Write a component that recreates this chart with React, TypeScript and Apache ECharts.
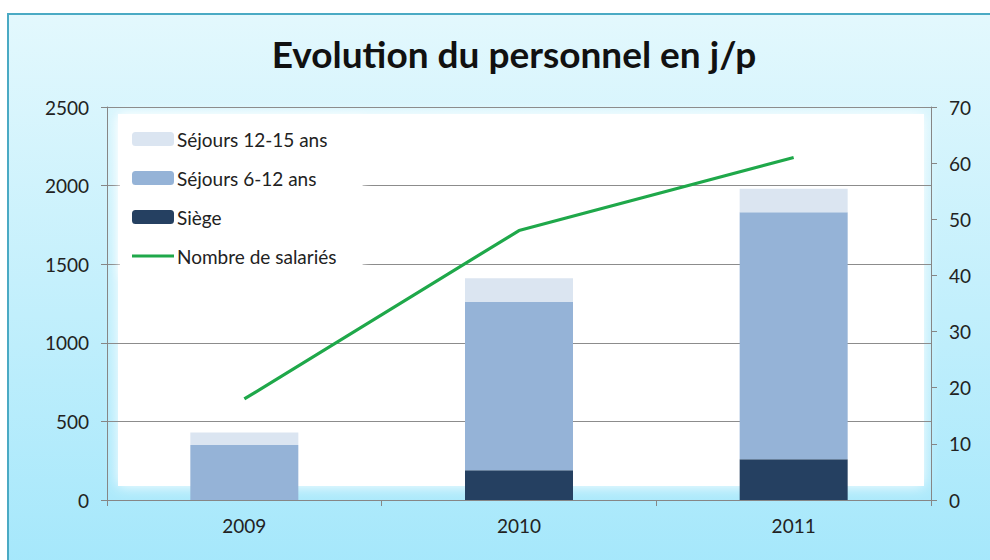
import React, { useEffect, useRef } from "react";
import * as echarts from "echarts";

const categories = ["2009", "2010", "2011"];
const siege = [0, 190, 260];
const sejours612 = [350, 1070, 1570];
const sejours1215 = [80, 150, 150];
const salaries = [18, 48, 61];
const leftTicks = [0, 500, 1000, 1500, 2000, 2500];
const rightTicks = [0, 10, 20, 30, 40, 50, 60, 70];

const FONT = "Lato, 'Open Sans', sans-serif";

export default function App() {
  const ref = useRef<HTMLDivElement>(null);
  useEffect(() => {
    if (!ref.current) return;
    const chart = echarts.init(ref.current, null, { renderer: "svg" });
    const axisLabel = { color: "#222", fontSize: 19, fontFamily: FONT };
    chart.setOption({
      animation: false,
      backgroundColor: "#fff",
      title: {
        text: "Evolution du personnel en j/p",
        left: 509,
        textAlign: "center",
        top: 30,
        textStyle: { fontSize: 37, fontWeight: "bold", color: "#111", fontFamily: FONT },
      },
      graphic: [
        {
          type: "rect",
          z: -10,
          silent: true,
          shape: { x: 8, y: 14, width: 1000, height: 600 },
          style: {
            fill: new echarts.graphic.LinearGradient(0, 0, 0, 1, [
              { offset: 0, color: "#e3f8fd" },
              { offset: 1, color: "#a0e6fb" },
            ]),
            stroke: "#4aaac4",
            lineWidth: 2,
          },
        },
        {
          type: "rect",
          z: -9,
          silent: true,
          shape: { x: 118, y: 114, width: 806, height: 372 },
          style: { fill: "#ffffff", shadowBlur: 14, shadowColor: "#ffffff" },
        },
      ],
      legend: {
        orient: "vertical",
        left: 120,
        top: 118,
        padding: [11, 26, 11, 12],
        backgroundColor: "#ffffff",
        shadowBlur: 10,
        shadowColor: "rgba(255,255,255,1)",
        itemWidth: 42,
        itemHeight: 14,
        itemGap: 19,
        textStyle: { fontSize: 19, lineHeight: 20, color: "#222", fontFamily: FONT, padding: [0, 0, 0, -2] },
        data: [
          { name: "Séjours 12-15 ans" },
          { name: "Séjours 6-12 ans" },
          { name: "Siège" },
          { name: "Nombre de salariés", icon: "path://M0,6 L42,6 L42,9 L0,9 Z" },
        ],
      },
      grid: { left: 107, right: 59, top: 107, bottom: 60 },
      xAxis: {
        type: "category",
        data: categories,
        axisLine: { lineStyle: { color: "#868686", width: 1 } },
        axisTick: { show: true, length: 6, inside: false, lineStyle: { color: "#868686" } },
        axisLabel: { ...axisLabel, margin: 16 },
      },
      yAxis: [
        {
          type: "value",
          min: leftTicks[0],
          max: leftTicks[leftTicks.length - 1],
          interval: 500,
          axisLine: { show: true, lineStyle: { color: "#868686" } },
          axisTick: { show: true, length: 6, lineStyle: { color: "#868686" } },
          splitLine: { show: true, lineStyle: { color: "#8c8c8c", width: 1 } },
          axisLabel: { ...axisLabel, margin: 18, formatter: (v: number) => String(v) },
        },
        {
          type: "value",
          min: rightTicks[0],
          max: rightTicks[rightTicks.length - 1],
          interval: 10,
          position: "right",
          axisLine: { show: true, lineStyle: { color: "#868686" } },
          axisTick: { show: true, length: 6, lineStyle: { color: "#868686" } },
          splitLine: { show: false },
          axisLabel: { ...axisLabel, margin: 18, formatter: (v: number) => String(v) },
        },
      ],
      series: [
        {
          name: "Siège",
          type: "bar",
          stack: "total",
          data: siege,
          barWidth: 108,
          itemStyle: { color: "#254061" },
        },
        {
          name: "Séjours 6-12 ans",
          type: "bar",
          stack: "total",
          data: sejours612,
          barWidth: 108,
          itemStyle: { color: "#95b3d7" },
        },
        {
          name: "Séjours 12-15 ans",
          type: "bar",
          stack: "total",
          data: sejours1215,
          barWidth: 108,
          itemStyle: { color: "#dbe5f1" },
        },
        {
          name: "Nombre de salariés",
          type: "line",
          yAxisIndex: 1,
          data: salaries,
          symbol: "none",
          lineStyle: { color: "#1fa84a", width: 3.2 },
          itemStyle: { color: "#1fa84a" },
          z: 5,
        },
      ],
    });
    return () => chart.dispose();
  }, []);
  return (
    <div
      ref={ref}
      style={{ position: "fixed", left: 0, top: 0, width: 990, height: 560 }}
    />
  );
}
